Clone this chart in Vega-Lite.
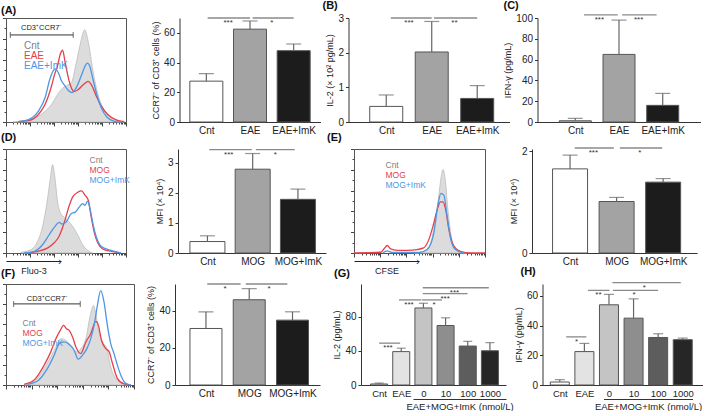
{
"$schema":"https://vega.github.io/schema/vega-lite/v6.json",
"padding":0,"background":"white","autosize":{"type":"pad"},
"config":{"view":{"stroke":null},"font":"Liberation Sans",
 "axis":{"labelFont":"Liberation Sans","titleFont":"Liberation Sans","labelFontSize":10,"titleFontSize":9,"titleFontWeight":"normal","labelColor":"#222","titleColor":"#222","domainColor":"#333","tickColor":"#333","tickSize":3,"grid":false,"titlePadding":3,"labelPadding":2,"labelOverlap":false},
 "axisX":{"labelAngle":0},
 "title":{"font":"Liberation Sans","fontSize":11,"fontWeight":"bold","anchor":"start","frame":"group","color":"#111"},
 "text":{"font":"Liberation Sans"},
 "legend":{"labelFont":"Liberation Sans"}},
"datasets":{
"bars":[
{"p":"A","i":0,"g":"Cnt","m":27.5,"e":32.5},{"p":"A","i":1,"g":"EAE","m":62.5,"e":68},{"p":"A","i":2,"g":"EAE+ImK","m":48,"e":52.5},
{"p":"B","i":0,"g":"Cnt","m":0.45,"e":0.78},{"p":"B","i":1,"g":"EAE","m":2.02,"e":2.9},{"p":"B","i":2,"g":"EAE+ImK","m":0.68,"e":1.05},
{"p":"C","i":0,"g":"Cnt","m":1.2,"e":3.5},{"p":"C","i":1,"g":"EAE","m":65,"e":98},{"p":"C","i":2,"g":"EAE+ImK","m":16,"e":27.5},
{"p":"D","i":0,"g":"Cnt","m":0.38,"e":0.57},{"p":"D","i":1,"g":"MOG","m":2.78,"e":3.3},{"p":"D","i":2,"g":"MOG+ImK","m":1.78,"e":2.12},
{"p":"E","i":0,"g":"Cnt","m":1.65,"e":1.92},{"p":"E","i":1,"g":"MOG","m":1.01,"e":1.09},{"p":"E","i":2,"g":"MOG+ImK","m":1.39,"e":1.46},
{"p":"F","i":0,"g":"Cnt","m":30.5,"e":39.5},{"p":"F","i":1,"g":"MOG","m":46,"e":52},{"p":"F","i":2,"g":"MOG+ImK","m":35,"e":39.5},
{"p":"G","i":0,"g":"Cnt","m":1.2,"e":2.3},{"p":"G","i":1,"g":"EAE","m":39,"e":43},{"p":"G","i":2,"g":"0","m":90,"e":95.5},{"p":"G","i":3,"g":"10","m":69.5,"e":78.5},{"p":"G","i":4,"g":"100","m":45.5,"e":51},{"p":"G","i":5,"g":"1000","m":40,"e":49.5},
{"p":"H","i":0,"g":"Cnt","m":2,"e":3.6},{"p":"H","i":1,"g":"EAE","m":22.5,"e":28},{"p":"H","i":2,"g":"0","m":54,"e":61},{"p":"H","i":3,"g":"10","m":45,"e":58},{"p":"H","i":4,"g":"100","m":32,"e":34.5},{"p":"H","i":5,"g":"1000","m":30.5,"e":31.6}
],
"sig":[
{"p":"A","a":0.03,"b":1.0,"mid":0.5,"y":70,"t":"***"},{"p":"A","a":1.06,"b":2.0,"mid":1.5,"y":70,"t":"*"},
{"p":"B","a":0.1,"b":1.0,"mid":0.5,"y":3,"t":"***"},{"p":"B","a":1.05,"b":2.0,"mid":1.5,"y":3,"t":"**"},
{"p":"C","a":0.2,"b":0.97,"mid":0.55,"y":103,"t":"***"},{"p":"C","a":1.07,"b":1.86,"mid":1.45,"y":103,"t":"***"},
{"p":"D","a":0.04,"b":0.98,"mid":0.47,"y":3.43,"t":"***"},{"p":"D","a":1.07,"b":1.93,"mid":1.5,"y":3.43,"t":"*"},
{"p":"E","a":0.1,"b":0.94,"mid":0.5,"y":2.06,"t":"***"},{"p":"E","a":1.07,"b":1.98,"mid":1.5,"y":2.06,"t":"*"},
{"p":"F","a":0.03,"b":0.8,"mid":0.44,"y":54.5,"t":"*"},{"p":"F","a":0.92,"b":1.88,"mid":1.46,"y":54.5,"t":"*"},
{"p":"G","a":0,"b":0.95,"mid":0.4,"y":48.9,"t":"***"},{"p":"G","a":0.9,"b":1.9,"mid":1.35,"y":99.4,"t":"***"},{"p":"G","a":1.93,"b":2.84,"mid":2.48,"y":99.4,"t":"*"},{"p":"G","a":1.97,"b":3.99,"mid":2.98,"y":106.7,"t":"***"},{"p":"G","a":1.97,"b":4.95,"mid":3.4,"y":113.6,"t":"***"},
{"p":"H","a":0.26,"b":1.08,"mid":0.68,"y":32.4,"t":"*"},{"p":"H","a":1.15,"b":2.02,"mid":1.57,"y":63.7,"t":"**"},{"p":"H","a":2.16,"b":4.0,"mid":3.02,"y":63.7,"t":"*"},{"p":"H","a":2.14,"b":4.92,"mid":3.44,"y":68.9,"t":"*"}
],
"gate":[
{"p":"A","a":0.18,"b":2.8,"mid":1.49,"y":83.7,"t":"CD3⁺CCR7⁻"},
{"p":"F","a":0.3,"b":2.9,"mid":1.62,"y":80.3,"t":"CD3⁺CCR7⁻"}
],
"hist":[
{"p":"A","s":"Cnt","x":0.3,"y":0},{"p":"A","s":"Cnt","x":0.66,"y":1},{"p":"A","s":"Cnt","x":1.21,"y":3.9},{"p":"A","s":"Cnt","x":1.63,"y":10.4},{"p":"A","s":"Cnt","x":1.9,"y":17},{"p":"A","s":"Cnt","x":2.11,"y":25},{"p":"A","s":"Cnt","x":2.31,"y":31.6},{"p":"A","s":"Cnt","x":2.52,"y":34.9},{"p":"A","s":"Cnt","x":2.73,"y":38},{"p":"A","s":"Cnt","x":2.89,"y":52.8},{"p":"A","s":"Cnt","x":3.07,"y":72.3},{"p":"A","s":"Cnt","x":3.28,"y":88.6},{"p":"A","s":"Cnt","x":3.44,"y":75.6},{"p":"A","s":"Cnt","x":3.62,"y":49.5},{"p":"A","s":"Cnt","x":3.83,"y":26.7},{"p":"A","s":"Cnt","x":4.04,"y":13.7},{"p":"A","s":"Cnt","x":4.31,"y":5.5},{"p":"A","s":"Cnt","x":4.66,"y":1.3},{"p":"A","s":"Cnt","x":4.93,"y":0},
{"p":"A","s":"EAE","x":0.52,"y":0.3},{"p":"A","s":"EAE","x":0.94,"y":1.3},{"p":"A","s":"EAE","x":1.35,"y":7.2},{"p":"A","s":"EAE","x":1.63,"y":17},{"p":"A","s":"EAE","x":1.9,"y":34.9},{"p":"A","s":"EAE","x":2.01,"y":44.6},{"p":"A","s":"EAE","x":2.15,"y":54.4},{"p":"A","s":"EAE","x":2.27,"y":65.8},{"p":"A","s":"EAE","x":2.36,"y":69},{"p":"A","s":"EAE","x":2.45,"y":59.3},{"p":"A","s":"EAE","x":2.56,"y":46.3},{"p":"A","s":"EAE","x":2.69,"y":34.9},{"p":"A","s":"EAE","x":2.84,"y":29.3},{"p":"A","s":"EAE","x":3.03,"y":31.6},{"p":"A","s":"EAE","x":3.25,"y":36.5},{"p":"A","s":"EAE","x":3.42,"y":39},{"p":"A","s":"EAE","x":3.58,"y":34.9},{"p":"A","s":"EAE","x":3.76,"y":25},{"p":"A","s":"EAE","x":3.97,"y":15.3},{"p":"A","s":"EAE","x":4.24,"y":7.2},{"p":"A","s":"EAE","x":4.59,"y":2},{"p":"A","s":"EAE","x":4.93,"y":0.3},
{"p":"A","s":"EAE+ImK","x":0.52,"y":0.3},{"p":"A","s":"EAE+ImK","x":0.94,"y":2.3},{"p":"A","s":"EAE+ImK","x":1.35,"y":10.4},{"p":"A","s":"EAE+ImK","x":1.63,"y":23.5},{"p":"A","s":"EAE+ImK","x":1.83,"y":41.4},{"p":"A","s":"EAE+ImK","x":1.97,"y":49.5},{"p":"A","s":"EAE+ImK","x":2.07,"y":51.1},{"p":"A","s":"EAE+ImK","x":2.2,"y":46.3},{"p":"A","s":"EAE+ImK","x":2.31,"y":39.7},{"p":"A","s":"EAE+ImK","x":2.45,"y":34.9},{"p":"A","s":"EAE+ImK","x":2.59,"y":30.6},{"p":"A","s":"EAE+ImK","x":2.75,"y":28.3},{"p":"A","s":"EAE+ImK","x":2.93,"y":33.2},{"p":"A","s":"EAE+ImK","x":3.14,"y":44.6},{"p":"A","s":"EAE+ImK","x":3.31,"y":54.4},{"p":"A","s":"EAE+ImK","x":3.39,"y":56.7},{"p":"A","s":"EAE+ImK","x":3.48,"y":54.4},{"p":"A","s":"EAE+ImK","x":3.62,"y":41.4},{"p":"A","s":"EAE+ImK","x":3.8,"y":25},{"p":"A","s":"EAE+ImK","x":3.97,"y":13.7},{"p":"A","s":"EAE+ImK","x":4.21,"y":4.6},{"p":"A","s":"EAE+ImK","x":4.52,"y":0.7},{"p":"A","s":"EAE+ImK","x":4.8,"y":0},
{"p":"D","s":"Cnt","x":0.63,"y":0.7},{"p":"D","s":"Cnt","x":1.04,"y":3.3},{"p":"D","s":"Cnt","x":1.32,"y":11.5},{"p":"D","s":"Cnt","x":1.53,"y":26},{"p":"D","s":"Cnt","x":1.71,"y":49},{"p":"D","s":"Cnt","x":1.85,"y":72},{"p":"D","s":"Cnt","x":1.94,"y":85},{"p":"D","s":"Cnt","x":2.04,"y":72},{"p":"D","s":"Cnt","x":2.15,"y":49},{"p":"D","s":"Cnt","x":2.29,"y":37.7},{"p":"D","s":"Cnt","x":2.43,"y":34.4},{"p":"D","s":"Cnt","x":2.64,"y":29.5},{"p":"D","s":"Cnt","x":2.85,"y":23},{"p":"D","s":"Cnt","x":3.01,"y":16.4},{"p":"D","s":"Cnt","x":3.19,"y":8.2},{"p":"D","s":"Cnt","x":3.4,"y":2.6},{"p":"D","s":"Cnt","x":3.61,"y":0},
{"p":"D","s":"MOG","x":0.9,"y":0},{"p":"D","s":"MOG","x":1.32,"y":1.6},{"p":"D","s":"MOG","x":1.74,"y":4.9},{"p":"D","s":"MOG","x":2.01,"y":9.8},{"p":"D","s":"MOG","x":2.22,"y":16.4},{"p":"D","s":"MOG","x":2.43,"y":29.5},{"p":"D","s":"MOG","x":2.64,"y":45.9},{"p":"D","s":"MOG","x":2.78,"y":54},{"p":"D","s":"MOG","x":2.99,"y":58.4},{"p":"D","s":"MOG","x":3.15,"y":59.7},{"p":"D","s":"MOG","x":3.29,"y":55.7},{"p":"D","s":"MOG","x":3.43,"y":50.8},{"p":"D","s":"MOG","x":3.54,"y":36},{"p":"D","s":"MOG","x":3.68,"y":19.7},{"p":"D","s":"MOG","x":3.82,"y":9.8},{"p":"D","s":"MOG","x":4.03,"y":3.9},{"p":"D","s":"MOG","x":4.38,"y":1.6},{"p":"D","s":"MOG","x":4.79,"y":0},
{"p":"D","s":"MOG+ImK","x":0.76,"y":0},{"p":"D","s":"MOG+ImK","x":1.18,"y":1.6},{"p":"D","s":"MOG+ImK","x":1.53,"y":8.2},{"p":"D","s":"MOG+ImK","x":1.81,"y":18},{"p":"D","s":"MOG+ImK","x":2.01,"y":24.6},{"p":"D","s":"MOG+ImK","x":2.22,"y":29.5},{"p":"D","s":"MOG+ImK","x":2.32,"y":27.9},{"p":"D","s":"MOG+ImK","x":2.5,"y":29.5},{"p":"D","s":"MOG+ImK","x":2.71,"y":37.7},{"p":"D","s":"MOG+ImK","x":2.88,"y":39.3},{"p":"D","s":"MOG+ImK","x":3.06,"y":44.3},{"p":"D","s":"MOG+ImK","x":3.19,"y":47.5},{"p":"D","s":"MOG+ImK","x":3.29,"y":45.9},{"p":"D","s":"MOG+ImK","x":3.4,"y":49.8},{"p":"D","s":"MOG+ImK","x":3.5,"y":42.6},{"p":"D","s":"MOG+ImK","x":3.61,"y":29.5},{"p":"D","s":"MOG+ImK","x":3.75,"y":16.4},{"p":"D","s":"MOG+ImK","x":3.96,"y":6.6},{"p":"D","s":"MOG+ImK","x":4.38,"y":2.6},{"p":"D","s":"MOG+ImK","x":4.79,"y":0},
{"p":"E","s":"Cnt","x":2.3,"y":0},{"p":"E","s":"Cnt","x":2.66,"y":1.6},{"p":"E","s":"Cnt","x":2.92,"y":9.8},{"p":"E","s":"Cnt","x":3.11,"y":32.8},{"p":"E","s":"Cnt","x":3.24,"y":55.7},{"p":"E","s":"Cnt","x":3.32,"y":72},{"p":"E","s":"Cnt","x":3.4,"y":80.3},{"p":"E","s":"Cnt","x":3.49,"y":68.9},{"p":"E","s":"Cnt","x":3.58,"y":42.6},{"p":"E","s":"Cnt","x":3.71,"y":16.4},{"p":"E","s":"Cnt","x":3.87,"y":3.9},{"p":"E","s":"Cnt","x":4.06,"y":0.7},{"p":"E","s":"Cnt","x":4.31,"y":0},
{"p":"E","s":"MOG","x":0,"y":0},{"p":"E","s":"MOG","x":1.02,"y":0.7},{"p":"E","s":"MOG","x":1.14,"y":3.9},{"p":"E","s":"MOG","x":1.27,"y":7.2},{"p":"E","s":"MOG","x":1.4,"y":3.9},{"p":"E","s":"MOG","x":1.65,"y":2.6},{"p":"E","s":"MOG","x":2.03,"y":2.6},{"p":"E","s":"MOG","x":2.41,"y":3.3},{"p":"E","s":"MOG","x":2.66,"y":4.9},{"p":"E","s":"MOG","x":2.86,"y":13.1},{"p":"E","s":"MOG","x":3.02,"y":26.2},{"p":"E","s":"MOG","x":3.17,"y":41},{"p":"E","s":"MOG","x":3.3,"y":49.2},{"p":"E","s":"MOG","x":3.4,"y":49.2},{"p":"E","s":"MOG","x":3.49,"y":42.6},{"p":"E","s":"MOG","x":3.62,"y":23},{"p":"E","s":"MOG","x":3.81,"y":6.6},{"p":"E","s":"MOG","x":4.06,"y":1.6},{"p":"E","s":"MOG","x":4.44,"y":0},{"p":"E","s":"MOG","x":5,"y":0},
{"p":"E","s":"MOG+ImK","x":1.1,"y":0},{"p":"E","s":"MOG+ImK","x":1.27,"y":2},{"p":"E","s":"MOG+ImK","x":1.45,"y":0.5},{"p":"E","s":"MOG+ImK","x":2.5,"y":0.5},{"p":"E","s":"MOG+ImK","x":2.79,"y":3.3},{"p":"E","s":"MOG+ImK","x":3.05,"y":19.7},{"p":"E","s":"MOG+ImK","x":3.2,"y":45.9},{"p":"E","s":"MOG+ImK","x":3.32,"y":57.4},{"p":"E","s":"MOG+ImK","x":3.43,"y":55.7},{"p":"E","s":"MOG+ImK","x":3.55,"y":36},{"p":"E","s":"MOG+ImK","x":3.68,"y":14.8},{"p":"E","s":"MOG+ImK","x":3.87,"y":3.3},{"p":"E","s":"MOG+ImK","x":4.19,"y":0},
{"p":"F","s":"Cnt","x":0.71,"y":0.7},{"p":"F","s":"Cnt","x":1.1,"y":3.3},{"p":"F","s":"Cnt","x":1.49,"y":16.4},{"p":"F","s":"Cnt","x":1.75,"y":27.9},{"p":"F","s":"Cnt","x":1.95,"y":37.7},{"p":"F","s":"Cnt","x":2.14,"y":45.9},{"p":"F","s":"Cnt","x":2.34,"y":44.3},{"p":"F","s":"Cnt","x":2.53,"y":39.3},{"p":"F","s":"Cnt","x":2.77,"y":32.8},{"p":"F","s":"Cnt","x":2.92,"y":36},{"p":"F","s":"Cnt","x":3.12,"y":45.9},{"p":"F","s":"Cnt","x":3.29,"y":68.9},{"p":"F","s":"Cnt","x":3.42,"y":78.7},{"p":"F","s":"Cnt","x":3.51,"y":70.5},{"p":"F","s":"Cnt","x":3.64,"y":50.8},{"p":"F","s":"Cnt","x":3.77,"y":42.6},{"p":"F","s":"Cnt","x":3.94,"y":36},{"p":"F","s":"Cnt","x":4.09,"y":18},{"p":"F","s":"Cnt","x":4.29,"y":6.6},{"p":"F","s":"Cnt","x":4.55,"y":1.6},{"p":"F","s":"Cnt","x":4.74,"y":0},
{"p":"F","s":"MOG","x":0.71,"y":0.7},{"p":"F","s":"MOG","x":1.1,"y":4.9},{"p":"F","s":"MOG","x":1.49,"y":19.7},{"p":"F","s":"MOG","x":1.75,"y":32.8},{"p":"F","s":"MOG","x":1.95,"y":45.9},{"p":"F","s":"MOG","x":2.12,"y":54.1},{"p":"F","s":"MOG","x":2.25,"y":59},{"p":"F","s":"MOG","x":2.36,"y":55.7},{"p":"F","s":"MOG","x":2.47,"y":54.1},{"p":"F","s":"MOG","x":2.6,"y":47.5},{"p":"F","s":"MOG","x":2.73,"y":37.7},{"p":"F","s":"MOG","x":2.92,"y":31.1},{"p":"F","s":"MOG","x":3.12,"y":42.6},{"p":"F","s":"MOG","x":3.31,"y":50.8},{"p":"F","s":"MOG","x":3.51,"y":63},{"p":"F","s":"MOG","x":3.61,"y":59},{"p":"F","s":"MOG","x":3.73,"y":44.3},{"p":"F","s":"MOG","x":3.9,"y":36},{"p":"F","s":"MOG","x":4.03,"y":32.8},{"p":"F","s":"MOG","x":4.16,"y":21.3},{"p":"F","s":"MOG","x":4.35,"y":6.6},{"p":"F","s":"MOG","x":4.61,"y":1},{"p":"F","s":"MOG","x":4.87,"y":0},
{"p":"F","s":"MOG+ImK","x":0.84,"y":0.7},{"p":"F","s":"MOG+ImK","x":1.23,"y":3.9},{"p":"F","s":"MOG+ImK","x":1.62,"y":16.4},{"p":"F","s":"MOG+ImK","x":1.88,"y":29.5},{"p":"F","s":"MOG+ImK","x":2.08,"y":41},{"p":"F","s":"MOG+ImK","x":2.27,"y":42.6},{"p":"F","s":"MOG+ImK","x":2.47,"y":40},{"p":"F","s":"MOG+ImK","x":2.66,"y":34.4},{"p":"F","s":"MOG+ImK","x":2.82,"y":25.6},{"p":"F","s":"MOG+ImK","x":2.99,"y":29.5},{"p":"F","s":"MOG+ImK","x":3.16,"y":36},{"p":"F","s":"MOG+ImK","x":3.31,"y":45.9},{"p":"F","s":"MOG+ImK","x":3.44,"y":59},{"p":"F","s":"MOG+ImK","x":3.57,"y":78.7},{"p":"F","s":"MOG+ImK","x":3.7,"y":93.4},{"p":"F","s":"MOG+ImK","x":3.83,"y":82},{"p":"F","s":"MOG+ImK","x":3.96,"y":59},{"p":"F","s":"MOG+ImK","x":4.09,"y":41},{"p":"F","s":"MOG+ImK","x":4.22,"y":31.1},{"p":"F","s":"MOG+ImK","x":4.35,"y":19.7},{"p":"F","s":"MOG+ImK","x":4.51,"y":8.2},{"p":"F","s":"MOG+ImK","x":4.68,"y":1.6},{"p":"F","s":"MOG+ImK","x":4.87,"y":0}
]},
"spacing":-4,
"resolve":{"scale":{"x":"independent","y":"independent","fill":"independent","stroke":"independent"},"legend":{"fill":"independent","stroke":"independent"}},
"vconcat":[
{"hconcat":[
 {"width":120,"height":104,"title":{"text":"(A)","dx":-5,"offset":2},"view":{"stroke":"#555"},
  "layer":[
   {"data":{"name":"hist"},"transform":[{"filter":"datum.p==='A' && datum.s==='Cnt'"}],"mark":{"type":"area","interpolate":"monotone","fill":"#dcdcdc","stroke":"#bdbdbd","strokeWidth":0.8},
    "encoding":{"x":{"field":"x","type":"quantitative","scale":{"domain":[0,5],"nice":false,"zero":false},"axis":{"orient":"bottom","title":null,"labels":false,"domain":false,"tickColor":"#444","tickCount":100,"values":[0,0.301,0.477,0.602,0.699,0.778,0.845,0.903,0.954,1,1.301,1.477,1.602,1.699,1.778,1.845,1.903,1.954,2,2.301,2.477,2.602,2.699,2.778,2.845,2.903,2.954,3,3.301,3.477,3.602,3.699,3.778,3.845,3.903,3.954,4,4.301,4.477,4.602,4.699,4.778,4.845,4.903,4.954,5],"tickSize":{"condition":{"test":"datum.value % 1 === 0","value":4},"value":2}}},
     "y":{"field":"y","type":"quantitative","scale":{"domain":[0,100],"nice":false},"axis":{"title":null,"labels":false,"domain":false,"tickColor":"#444","tickCount":50,"values":[0,10,20,30,40,50,60,70,80,90,100],"tickSize":{"condition":{"test":"datum.value % 20 === 0","value":3.5},"value":2}}}}},
   {"data":{"name":"hist"},"transform":[{"filter":"datum.p==='A' && datum.s!=='Cnt'"}],"mark":{"type":"line","interpolate":"monotone","strokeWidth":1.3},
    "encoding":{"x":{"field":"x","type":"quantitative"},"y":{"field":"y","type":"quantitative"},
     "stroke":{"field":"s","type":"nominal","scale":{"domain":["Cnt","EAE","EAE+ImK"],"range":["#8c8c8c","#e5414b","#4d96e6"]},
      "legend":{"orient":"none","legendX":8,"legendY":23,"title":null,"symbolSize":0,"symbolStrokeWidth":0,"symbolOpacity":0,"labelOffset":0,"labelFontSize":10,"rowPadding":-0.5,"padding":0,
       "encode":{"labels":{"update":{"fill":{"signal":"datum.value === 'Cnt' ? '#7f7f7f' : (indexof(datum.value, 'ImK') >= 0 ? '#4d96e6' : '#e5414b')"}}}}}}}},
   {"data":{"name":"gate"},"transform":[{"filter":"datum.p==='A'"}],"mark":{"type":"rule","color":"#333","strokeWidth":1},"encoding":{"x":{"field":"a","type":"quantitative"},"x2":{"field":"b"},"y":{"field":"y","type":"quantitative"}}},
   {"data":{"name":"gate"},"transform":[{"filter":"datum.p==='A'"}],"mark":{"type":"tick","orient":"vertical","size":6,"thickness":1,"color":"#333"},"encoding":{"x":{"field":"a","type":"quantitative"},"y":{"field":"y","type":"quantitative"}}},
   {"data":{"name":"gate"},"transform":[{"filter":"datum.p==='A'"}],"mark":{"type":"tick","orient":"vertical","size":6,"thickness":1,"color":"#333"},"encoding":{"x":{"field":"b","type":"quantitative"},"y":{"field":"y","type":"quantitative"}}},
   {"data":{"name":"gate"},"transform":[{"filter":"datum.p==='A'"}],"mark":{"type":"text","baseline":"bottom","dy":-3,"fontSize":7.5,"color":"#222"},"encoding":{"x":{"field":"mid","type":"quantitative"},"y":{"field":"y","type":"quantitative"},"text":{"field":"t"}}}
  ]},
 {"hconcat":[
  {"width":141,"height":104,
   "layer":[
    {"data":{"name":"bars"},"transform":[{"filter":"datum.p==='A'"}],"mark":{"type":"bar","orient":"vertical","width":33,"stroke":"#555","strokeWidth":1},
     "encoding":{"x":{"field":"i","type":"quantitative","scale":{"domain":[-0.5,2.5],"nice":false,"zero":false},"axis":{"values":[0,1,2],"tickCount":50,"labelExpr":"['Cnt','EAE','EAE+ImK'][datum.value]","ticks":false,"title":null,"labelPadding":3,"labelOverlap":false}},
      "y":{"field":"m","type":"quantitative","scale":{"domain":[0,70],"nice":false},"axis":{"values":[0,20,40,60],"tickCount":50,"format":"d","labelOverlap":false,"title":"CCR7⁻ of CD3⁺ cells (%)"}},
      "fill":{"field":"g","type":"nominal","scale":{"domain":["Cnt","EAE","EAE+ImK"],"range":["#ffffff","#a3a3a3","#1c1c1c"]},"legend":null}}},
    {"data":{"name":"bars"},"transform":[{"filter":"datum.p==='A'"}],"mark":{"type":"rule","color":"#666","strokeWidth":1.2},"encoding":{"x":{"field":"i","type":"quantitative"},"y":{"field":"m","type":"quantitative"},"y2":{"field":"e"}}},
    {"data":{"name":"bars"},"transform":[{"filter":"datum.p==='A'"}],"mark":{"type":"tick","orient":"horizontal","size":15,"thickness":1.2,"color":"#666"},"encoding":{"x":{"field":"i","type":"quantitative"},"y":{"field":"e","type":"quantitative"}}},
    {"data":{"name":"sig"},"transform":[{"filter":"datum.p==='A'"}],"mark":{"type":"rule","color":"#8a8a8a","strokeWidth":1.3},"encoding":{"x":{"field":"a","type":"quantitative"},"x2":{"field":"b"},"y":{"field":"y","type":"quantitative"}}},
    {"data":{"name":"sig"},"transform":[{"filter":"datum.p==='A'"}],"mark":{"type":"text","baseline":"top","dy":1,"fontSize":8,"color":"#333"},"encoding":{"x":{"field":"mid","type":"quantitative"},"y":{"field":"y","type":"quantitative"},"text":{"field":"t"}}}
   ]},
  {"width":161,"height":104,"title":{"text":"(B)","dx":-26,"offset":2},
   "layer":[
    {"data":{"name":"bars"},"transform":[{"filter":"datum.p==='B'"}],"mark":{"type":"bar","orient":"vertical","width":33,"stroke":"#555","strokeWidth":1},
     "encoding":{"x":{"field":"i","type":"quantitative","scale":{"domain":[-0.72,2.6],"nice":false,"zero":false},"axis":{"values":[0,1,2],"tickCount":50,"labelExpr":"['Cnt','EAE','EAE+ImK'][datum.value]","ticks":false,"title":null,"labelPadding":3,"labelOverlap":false}},
      "y":{"field":"m","type":"quantitative","scale":{"domain":[0,3],"nice":false},"axis":{"values":[0,1,2,3],"tickCount":50,"format":"d","labelOverlap":false,"title":"IL-2 (× 10² pg/mL)"}},
      "fill":{"field":"g","type":"nominal","scale":{"domain":["Cnt","EAE","EAE+ImK"],"range":["#ffffff","#a3a3a3","#1c1c1c"]},"legend":null}}},
    {"data":{"name":"bars"},"transform":[{"filter":"datum.p==='B'"}],"mark":{"type":"rule","color":"#666","strokeWidth":1.2},"encoding":{"x":{"field":"i","type":"quantitative"},"y":{"field":"m","type":"quantitative"},"y2":{"field":"e"}}},
    {"data":{"name":"bars"},"transform":[{"filter":"datum.p==='B'"}],"mark":{"type":"tick","orient":"horizontal","size":15,"thickness":1.2,"color":"#666"},"encoding":{"x":{"field":"i","type":"quantitative"},"y":{"field":"e","type":"quantitative"}}},
    {"data":{"name":"sig"},"transform":[{"filter":"datum.p==='B'"}],"mark":{"type":"rule","color":"#8a8a8a","strokeWidth":1.3},"encoding":{"x":{"field":"a","type":"quantitative"},"x2":{"field":"b"},"y":{"field":"y","type":"quantitative"}}},
    {"data":{"name":"sig"},"transform":[{"filter":"datum.p==='B'"}],"mark":{"type":"text","baseline":"top","dy":1,"fontSize":8,"color":"#333"},"encoding":{"x":{"field":"mid","type":"quantitative"},"y":{"field":"y","type":"quantitative"},"text":{"field":"t"}}}
   ]},
  {"width":163,"height":104,"title":{"text":"(C)","dx":-34,"offset":2},
   "layer":[
    {"data":{"name":"bars"},"transform":[{"filter":"datum.p==='C'"}],"mark":{"type":"bar","orient":"vertical","width":32,"stroke":"#555","strokeWidth":1},
     "encoding":{"x":{"field":"i","type":"quantitative","scale":{"domain":[-0.75,2.75],"nice":false,"zero":false},"axis":{"values":[0,1,2],"tickCount":50,"labelExpr":"['Cnt','EAE','EAE+ImK'][datum.value]","ticks":false,"title":null,"labelPadding":3,"labelOverlap":false}},
      "y":{"field":"m","type":"quantitative","scale":{"domain":[0,100],"nice":false},"axis":{"values":[0,20,40,60,80,100],"tickCount":50,"format":"d","labelOverlap":false,"title":"IFN-γ (pg/mL)"}},
      "fill":{"field":"g","type":"nominal","scale":{"domain":["Cnt","EAE","EAE+ImK"],"range":["#ffffff","#a3a3a3","#1c1c1c"]},"legend":null}}},
    {"data":{"name":"bars"},"transform":[{"filter":"datum.p==='C'"}],"mark":{"type":"rule","color":"#666","strokeWidth":1.2},"encoding":{"x":{"field":"i","type":"quantitative"},"y":{"field":"m","type":"quantitative"},"y2":{"field":"e"}}},
    {"data":{"name":"bars"},"transform":[{"filter":"datum.p==='C'"}],"mark":{"type":"tick","orient":"horizontal","size":15,"thickness":1.2,"color":"#666"},"encoding":{"x":{"field":"i","type":"quantitative"},"y":{"field":"e","type":"quantitative"}}},
    {"data":{"name":"sig"},"transform":[{"filter":"datum.p==='C'"}],"mark":{"type":"rule","color":"#8a8a8a","strokeWidth":1.3},"encoding":{"x":{"field":"a","type":"quantitative"},"x2":{"field":"b"},"y":{"field":"y","type":"quantitative"}}},
    {"data":{"name":"sig"},"transform":[{"filter":"datum.p==='C'"}],"mark":{"type":"text","baseline":"top","dy":1,"fontSize":8,"color":"#333"},"encoding":{"x":{"field":"mid","type":"quantitative"},"y":{"field":"y","type":"quantitative"},"text":{"field":"t"}}}
   ]}
 ],"spacing":28,"bounds":"flush","resolve":{"scale":{"x":"independent","y":"independent","fill":"independent","stroke":"independent"},"legend":{"fill":"independent","stroke":"independent"}}}
],"spacing":22.5,"resolve":{"scale":{"x":"independent","y":"independent","fill":"independent","stroke":"independent"},"legend":{"fill":"independent","stroke":"independent"}}},
{"vconcat":[
 {"hconcat":[
  {"hconcat":[
   {"width":120,"height":104,"title":{"text":"(D)","dx":-5,"offset":6},"view":{"stroke":"#555"},
    "resolve":{"scale":{"x":"independent"},"axis":{"x":"independent"}},
    "layer":[
     {"layer":[
      {"data":{"name":"hist"},"transform":[{"filter":"datum.p==='D' && datum.s==='Cnt'"}],"mark":{"type":"area","interpolate":"monotone","fill":"#dcdcdc","stroke":"#bdbdbd","strokeWidth":0.8},
       "encoding":{"x":{"field":"x","type":"quantitative","scale":{"domain":[0,5],"nice":false,"zero":false},"axis":{"orient":"bottom","title":null,"labels":false,"domain":false,"tickColor":"#444","tickCount":100,"values":[0,0.301,0.477,0.602,0.699,0.778,0.845,0.903,0.954,1,1.301,1.477,1.602,1.699,1.778,1.845,1.903,1.954,2,2.301,2.477,2.602,2.699,2.778,2.845,2.903,2.954,3,3.301,3.477,3.602,3.699,3.778,3.845,3.903,3.954,4,4.301,4.477,4.602,4.699,4.778,4.845,4.903,4.954,5],"tickSize":{"condition":{"test":"datum.value % 1 === 0","value":4},"value":2}}},
        "y":{"field":"y","type":"quantitative","scale":{"domain":[0,100],"nice":false},"axis":{"title":null,"labels":false,"domain":false,"tickColor":"#444","tickCount":50,"values":[0,10,20,30,40,50,60,70,80,90,100],"tickSize":{"condition":{"test":"datum.value % 20 === 0","value":3.5},"value":2}}}}},
      {"data":{"name":"hist"},"transform":[{"filter":"datum.p==='D' && datum.s!=='Cnt'"}],"mark":{"type":"line","interpolate":"monotone","strokeWidth":1.3},
       "encoding":{"x":{"field":"x","type":"quantitative"},"y":{"field":"y","type":"quantitative"},
        "stroke":{"field":"s","type":"nominal","scale":{"domain":["Cnt","MOG","MOG+ImK"],"range":["#8c8c8c","#e5414b","#4d96e6"]},
         "legend":{"orient":"none","legendX":75,"legendY":7,"title":null,"symbolSize":0,"symbolStrokeWidth":0,"symbolOpacity":0,"labelOffset":0,"labelFontSize":8.5,"rowPadding":1,"padding":0,
          "encode":{"labels":{"update":{"fill":{"signal":"datum.value === 'Cnt' ? '#7f7f7f' : (indexof(datum.value, 'ImK') >= 0 ? '#4d96e6' : '#e5414b')"}}}}}}}}
     ]},
     {"data":{"name":"hist"},"transform":[{"filter":"datum.p==='D'"}],"mark":{"type":"point","opacity":0},
      "encoding":{"x":{"datum":0.5,"type":"quantitative","scale":{"domain":[0,1],"range":[0,55]},"axis":{"orient":"bottom","offset":8,"domain":true,"domainColor":"#222","ticks":false,"tickSize":0,"labels":true,"values":[1],"tickCount":50,"labelExpr":"'›'","labelFontSize":10,"labelPadding":0,"labelBaseline":"middle","labelColor":"#222","title":"Fluo-3","titleFontSize":9,"titlePadding":0}},
       "y":{"datum":0,"type":"quantitative"}}}
    ]},
   {"width":148,"height":104,
    "layer":[
     {"data":{"name":"bars"},"transform":[{"filter":"datum.p==='D'"}],"mark":{"type":"bar","orient":"vertical","width":35,"stroke":"#555","strokeWidth":1},
      "encoding":{"x":{"field":"i","type":"quantitative","scale":{"domain":[-0.54,2.51],"nice":false,"zero":false},"axis":{"values":[0,1,2],"tickCount":50,"labelExpr":"['Cnt','MOG','MOG+ImK'][datum.value]","ticks":false,"title":null,"labelPadding":3,"labelOverlap":false}},
       "y":{"field":"m","type":"quantitative","scale":{"domain":[0,3.45],"nice":false},"axis":{"values":[0,1,2,3],"tickCount":50,"format":"d","labelOverlap":false,"title":"MFI (× 10⁴)"}},
       "fill":{"field":"g","type":"nominal","scale":{"domain":["Cnt","MOG","MOG+ImK"],"range":["#ffffff","#a3a3a3","#1c1c1c"]},"legend":null}}},
     {"data":{"name":"bars"},"transform":[{"filter":"datum.p==='D'"}],"mark":{"type":"rule","color":"#666","strokeWidth":1.2},"encoding":{"x":{"field":"i","type":"quantitative"},"y":{"field":"m","type":"quantitative"},"y2":{"field":"e"}}},
     {"data":{"name":"bars"},"transform":[{"filter":"datum.p==='D'"}],"mark":{"type":"tick","orient":"horizontal","size":15,"thickness":1.2,"color":"#666"},"encoding":{"x":{"field":"i","type":"quantitative"},"y":{"field":"e","type":"quantitative"}}},
     {"data":{"name":"sig"},"transform":[{"filter":"datum.p==='D'"}],"mark":{"type":"rule","color":"#8a8a8a","strokeWidth":1.3},"encoding":{"x":{"field":"a","type":"quantitative"},"x2":{"field":"b"},"y":{"field":"y","type":"quantitative"}}},
     {"data":{"name":"sig"},"transform":[{"filter":"datum.p==='D'"}],"mark":{"type":"text","baseline":"top","dy":1,"fontSize":8,"color":"#333"},"encoding":{"x":{"field":"mid","type":"quantitative"},"y":{"field":"y","type":"quantitative"},"text":{"field":"t"}}}
    ]}
  ],"spacing":52,"bounds":"flush","resolve":{"scale":{"x":"independent","y":"independent","fill":"independent","stroke":"independent"},"legend":{"fill":"independent","stroke":"independent"}}},
  {"hconcat":[
   {"width":131,"height":104,"title":{"text":"(E)","dx":-27,"offset":6},"view":{"stroke":"#555"},
    "resolve":{"scale":{"x":"independent"},"axis":{"x":"independent"}},
    "layer":[
     {"layer":[
      {"data":{"name":"hist"},"transform":[{"filter":"datum.p==='E' && datum.s==='Cnt'"}],"mark":{"type":"area","interpolate":"monotone","fill":"#dcdcdc","stroke":"#bdbdbd","strokeWidth":0.8},
       "encoding":{"x":{"field":"x","type":"quantitative","scale":{"domain":[0,5],"nice":false,"zero":false},"axis":{"orient":"bottom","title":null,"labels":false,"domain":false,"tickColor":"#444","tickCount":100,"values":[0,0.301,0.477,0.602,0.699,0.778,0.845,0.903,0.954,1,1.301,1.477,1.602,1.699,1.778,1.845,1.903,1.954,2,2.301,2.477,2.602,2.699,2.778,2.845,2.903,2.954,3,3.301,3.477,3.602,3.699,3.778,3.845,3.903,3.954,4,4.301,4.477,4.602,4.699,4.778,4.845,4.903,4.954,5],"tickSize":{"condition":{"test":"datum.value % 1 === 0","value":4},"value":2}}},
        "y":{"field":"y","type":"quantitative","scale":{"domain":[0,100],"nice":false},"axis":{"title":null,"labels":false,"domain":false,"tickColor":"#444","tickCount":50,"values":[0,10,20,30,40,50,60,70,80,90,100],"tickSize":{"condition":{"test":"datum.value % 20 === 0","value":3.5},"value":2}}}}},
      {"data":{"name":"hist"},"transform":[{"filter":"datum.p==='E' && datum.s!=='Cnt'"}],"mark":{"type":"line","interpolate":"monotone","strokeWidth":1.3},
       "encoding":{"x":{"field":"x","type":"quantitative"},"y":{"field":"y","type":"quantitative"},
        "stroke":{"field":"s","type":"nominal","scale":{"domain":["Cnt","MOG","MOG+ImK"],"range":["#8c8c8c","#e5414b","#4d96e6"]},
         "legend":{"orient":"none","legendX":23,"legendY":12,"title":null,"symbolSize":0,"symbolStrokeWidth":0,"symbolOpacity":0,"labelOffset":0,"labelFontSize":8.5,"rowPadding":1,"padding":0,
          "encode":{"labels":{"update":{"fill":{"signal":"datum.value === 'Cnt' ? '#7f7f7f' : (indexof(datum.value, 'ImK') >= 0 ? '#4d96e6' : '#e5414b')"}}}}}}}}
     ]},
     {"data":{"name":"hist"},"transform":[{"filter":"datum.p==='E'"}],"mark":{"type":"point","opacity":0},
      "encoding":{"x":{"datum":0.5,"type":"quantitative","scale":{"domain":[0,1],"range":[0,65]},"axis":{"orient":"bottom","offset":8,"domain":true,"domainColor":"#222","ticks":false,"tickSize":0,"labels":true,"values":[1],"tickCount":50,"labelExpr":"'›'","labelFontSize":10,"labelPadding":0,"labelBaseline":"middle","labelColor":"#222","title":"CFSE","titleFontSize":9,"titlePadding":0}},
       "y":{"datum":0,"type":"quantitative"}}}
    ]},
   {"width":165,"height":104,
    "layer":[
     {"data":{"name":"bars"},"transform":[{"filter":"datum.p==='E'"}],"mark":{"type":"bar","orient":"vertical","width":35,"stroke":"#555","strokeWidth":1},
      "encoding":{"x":{"field":"i","type":"quantitative","scale":{"domain":[-0.71,2.62],"nice":false,"zero":false},"axis":{"values":[0,1,2],"tickCount":50,"labelExpr":"['Cnt','MOG','MOG+ImK'][datum.value]","ticks":false,"title":null,"labelPadding":3,"labelOverlap":false}},
       "y":{"field":"m","type":"quantitative","scale":{"domain":[0,2.04],"nice":false},"axis":{"values":[0,1,2],"tickCount":50,"format":"d","labelOverlap":false,"title":"MFI (× 10⁴)"}},
       "fill":{"field":"g","type":"nominal","scale":{"domain":["Cnt","MOG","MOG+ImK"],"range":["#ffffff","#a3a3a3","#1c1c1c"]},"legend":null}}},
     {"data":{"name":"bars"},"transform":[{"filter":"datum.p==='E'"}],"mark":{"type":"rule","color":"#666","strokeWidth":1.2},"encoding":{"x":{"field":"i","type":"quantitative"},"y":{"field":"m","type":"quantitative"},"y2":{"field":"e"}}},
     {"data":{"name":"bars"},"transform":[{"filter":"datum.p==='E'"}],"mark":{"type":"tick","orient":"horizontal","size":15,"thickness":1.2,"color":"#666"},"encoding":{"x":{"field":"i","type":"quantitative"},"y":{"field":"e","type":"quantitative"}}},
     {"data":{"name":"sig"},"transform":[{"filter":"datum.p==='E'"}],"mark":{"type":"rule","color":"#8a8a8a","strokeWidth":1.3},"encoding":{"x":{"field":"a","type":"quantitative"},"x2":{"field":"b"},"y":{"field":"y","type":"quantitative"}}},
     {"data":{"name":"sig"},"transform":[{"filter":"datum.p==='E'"}],"mark":{"type":"text","baseline":"top","dy":1,"fontSize":8,"color":"#333"},"encoding":{"x":{"field":"mid","type":"quantitative"},"y":{"field":"y","type":"quantitative"},"text":{"field":"t"}}}
    ]}
  ],"spacing":47,"bounds":"flush","resolve":{"scale":{"x":"independent","y":"independent","fill":"independent","stroke":"independent"},"legend":{"fill":"independent","stroke":"independent"}}}
 ],"spacing":0,"resolve":{"scale":{"x":"independent","y":"independent","fill":"independent","stroke":"independent"},"legend":{"fill":"independent","stroke":"independent"}}},
 {"hconcat":[
  {"hconcat":[
   {"width":128,"height":101,"title":{"text":"(F)","dx":-5,"offset":5},"view":{"stroke":"#555"},
    "layer":[
     {"data":{"name":"hist"},"transform":[{"filter":"datum.p==='F' && datum.s==='Cnt'"}],"mark":{"type":"area","interpolate":"monotone","fill":"#dcdcdc","stroke":"#bdbdbd","strokeWidth":0.8},
      "encoding":{"x":{"field":"x","type":"quantitative","scale":{"domain":[0,5],"nice":false,"zero":false},"axis":{"orient":"bottom","title":null,"labels":false,"domain":false,"tickColor":"#444","tickCount":100,"values":[0,0.301,0.477,0.602,0.699,0.778,0.845,0.903,0.954,1,1.301,1.477,1.602,1.699,1.778,1.845,1.903,1.954,2,2.301,2.477,2.602,2.699,2.778,2.845,2.903,2.954,3,3.301,3.477,3.602,3.699,3.778,3.845,3.903,3.954,4,4.301,4.477,4.602,4.699,4.778,4.845,4.903,4.954,5],"tickSize":{"condition":{"test":"datum.value % 1 === 0","value":4},"value":2}}},
       "y":{"field":"y","type":"quantitative","scale":{"domain":[0,100],"nice":false},"axis":{"title":null,"labels":false,"domain":false,"tickColor":"#444","tickCount":50,"values":[0,10,20,30,40,50,60,70,80,90,100],"tickSize":{"condition":{"test":"datum.value % 20 === 0","value":3.5},"value":2}}}}},
     {"data":{"name":"hist"},"transform":[{"filter":"datum.p==='F' && datum.s!=='Cnt'"}],"mark":{"type":"line","interpolate":"monotone","strokeWidth":1.3},
      "encoding":{"x":{"field":"x","type":"quantitative"},"y":{"field":"y","type":"quantitative"},
       "stroke":{"field":"s","type":"nominal","scale":{"domain":["Cnt","MOG","MOG+ImK"],"range":["#8c8c8c","#e5414b","#4d96e6"]},
        "legend":{"orient":"none","legendX":8,"legendY":35,"title":null,"symbolSize":0,"symbolStrokeWidth":0,"symbolOpacity":0,"labelOffset":0,"labelFontSize":8.5,"rowPadding":1,"padding":0,
         "encode":{"labels":{"update":{"fill":{"signal":"datum.value === 'Cnt' ? '#7f7f7f' : (indexof(datum.value, 'ImK') >= 0 ? '#4d96e6' : '#e5414b')"}}}}}}}},
     {"data":{"name":"gate"},"transform":[{"filter":"datum.p==='F'"}],"mark":{"type":"rule","color":"#333","strokeWidth":1},"encoding":{"x":{"field":"a","type":"quantitative"},"x2":{"field":"b"},"y":{"field":"y","type":"quantitative"}}},
     {"data":{"name":"gate"},"transform":[{"filter":"datum.p==='F'"}],"mark":{"type":"tick","orient":"vertical","size":6,"thickness":1,"color":"#333"},"encoding":{"x":{"field":"a","type":"quantitative"},"y":{"field":"y","type":"quantitative"}}},
     {"data":{"name":"gate"},"transform":[{"filter":"datum.p==='F'"}],"mark":{"type":"tick","orient":"vertical","size":6,"thickness":1,"color":"#333"},"encoding":{"x":{"field":"b","type":"quantitative"},"y":{"field":"y","type":"quantitative"}}},
     {"data":{"name":"gate"},"transform":[{"filter":"datum.p==='F'"}],"mark":{"type":"text","baseline":"bottom","dy":-1,"fontSize":7.5,"color":"#222"},"encoding":{"x":{"field":"mid","type":"quantitative"},"y":{"field":"y","type":"quantitative"},"text":{"field":"t"}}}
    ]},
   {"width":145,"height":101,
    "layer":[
     {"data":{"name":"bars"},"transform":[{"filter":"datum.p==='F'"}],"mark":{"type":"bar","orient":"vertical","width":32,"stroke":"#555","strokeWidth":1},
      "encoding":{"x":{"field":"i","type":"quantitative","scale":{"domain":[-0.6,2.52],"nice":false,"zero":false},"axis":{"values":[0,1,2],"tickCount":50,"labelExpr":"['Cnt','MOG','MOG+ImK'][datum.value]","ticks":false,"title":null,"labelPadding":3,"labelOverlap":false}},
       "y":{"field":"m","type":"quantitative","scale":{"domain":[0,54.5],"nice":false},"axis":{"values":[0,20,40],"tickCount":50,"format":"d","labelOverlap":false,"title":"CCR7⁻ of CD3⁺ cells (%)"}},
       "fill":{"field":"g","type":"nominal","scale":{"domain":["Cnt","MOG","MOG+ImK"],"range":["#ffffff","#a3a3a3","#1c1c1c"]},"legend":null}}},
     {"data":{"name":"bars"},"transform":[{"filter":"datum.p==='F'"}],"mark":{"type":"rule","color":"#666","strokeWidth":1.2},"encoding":{"x":{"field":"i","type":"quantitative"},"y":{"field":"m","type":"quantitative"},"y2":{"field":"e"}}},
     {"data":{"name":"bars"},"transform":[{"filter":"datum.p==='F'"}],"mark":{"type":"tick","orient":"horizontal","size":15,"thickness":1.2,"color":"#666"},"encoding":{"x":{"field":"i","type":"quantitative"},"y":{"field":"e","type":"quantitative"}}},
     {"data":{"name":"sig"},"transform":[{"filter":"datum.p==='F'"}],"mark":{"type":"rule","color":"#8a8a8a","strokeWidth":1.3},"encoding":{"x":{"field":"a","type":"quantitative"},"x2":{"field":"b"},"y":{"field":"y","type":"quantitative"}}},
     {"data":{"name":"sig"},"transform":[{"filter":"datum.p==='F'"}],"mark":{"type":"text","baseline":"top","dy":1,"fontSize":8,"color":"#333"},"encoding":{"x":{"field":"mid","type":"quantitative"},"y":{"field":"y","type":"quantitative"},"text":{"field":"t"}}}
    ]},
   {"width":145,"height":101,"title":{"text":"(G)","dx":-27,"offset":5},
    "resolve":{"scale":{"x":"independent"},"axis":{"x":"independent"}},
    "layer":[
     {"layer":[
      {"data":{"name":"bars"},"transform":[{"filter":"datum.p==='G'"}],"mark":{"type":"bar","orient":"vertical","width":17,"stroke":"#555","strokeWidth":1},
       "encoding":{"x":{"field":"i","type":"quantitative","scale":{"domain":[-0.59,5.5],"nice":false,"zero":false},"axis":{"orient":"bottom","values":[0,1,2,3,4,5],"tickCount":50,"labelExpr":"['Cnt','EAE','0','10','100','1000'][datum.value]","ticks":false,"title":null,"labelPadding":3,"labelFontSize":9.5,"labelOverlap":false}},
        "y":{"field":"m","type":"quantitative","scale":{"domain":[0,118],"nice":false},"axis":{"values":[0,40,80],"tickCount":50,"format":"d","labelOverlap":false,"title":"IL-2 (pg/mL)"}},
        "fill":{"field":"g","type":"nominal","scale":{"domain":["Cnt","EAE","0","10","100","1000"],"range":["#ffffff","#e3e3e3","#c4c4c4","#8e8e8e","#5d5d5d","#262626"]},"legend":null}}},
      {"data":{"name":"bars"},"transform":[{"filter":"datum.p==='G'"}],"mark":{"type":"rule","color":"#666","strokeWidth":1.2},"encoding":{"x":{"field":"i","type":"quantitative"},"y":{"field":"m","type":"quantitative"},"y2":{"field":"e"}}},
      {"data":{"name":"bars"},"transform":[{"filter":"datum.p==='G'"}],"mark":{"type":"tick","orient":"horizontal","size":9,"thickness":1.2,"color":"#666"},"encoding":{"x":{"field":"i","type":"quantitative"},"y":{"field":"e","type":"quantitative"}}},
      {"data":{"name":"sig"},"transform":[{"filter":"datum.p==='G'"}],"mark":{"type":"rule","color":"#8a8a8a","strokeWidth":1.3},"encoding":{"x":{"field":"a","type":"quantitative"},"x2":{"field":"b"},"y":{"field":"y","type":"quantitative"}}},
      {"data":{"name":"sig"},"transform":[{"filter":"datum.p==='G'"}],"mark":{"type":"text","baseline":"top","dy":1,"fontSize":8,"color":"#333"},"encoding":{"x":{"field":"mid","type":"quantitative"},"y":{"field":"y","type":"quantitative"},"text":{"field":"t"}}}
     ]},
     {"data":{"name":"bars"},"transform":[{"filter":"datum.p==='G'"}],"mark":{"type":"point","opacity":0},
      "encoding":{"x":{"datum":3.5,"type":"quantitative","scale":{"domain":[2,5],"range":[52,145]},"axis":{"orient":"bottom","offset":14,"domain":true,"domainColor":"#333","ticks":false,"labels":false,"title":"EAE+MOG+ImK (nmol/L)","titleFontSize":9.5,"titlePadding":2}},
       "y":{"datum":0,"type":"quantitative"}}}
    ]}
  ],"spacing":41,"bounds":"flush","resolve":{"scale":{"x":"independent","y":"independent","fill":"independent","stroke":"independent"},"legend":{"fill":"independent","stroke":"independent"}}},
  {"width":160,"height":101,"title":{"text":"(H)","dx":-22,"offset":5},
   "resolve":{"scale":{"x":"independent"},"axis":{"x":"independent"}},
   "layer":[
    {"layer":[
     {"data":{"name":"bars"},"transform":[{"filter":"datum.p==='H'"}],"mark":{"type":"bar","orient":"vertical","width":19,"stroke":"#555","strokeWidth":1},
      "encoding":{"x":{"field":"i","type":"quantitative","scale":{"domain":[-0.5,5.6],"nice":false,"zero":false},"axis":{"orient":"bottom","values":[0,1,2,3,4,5],"tickCount":50,"labelExpr":"['Cnt','EAE','0','10','100','1000'][datum.value]","ticks":false,"title":null,"labelPadding":3,"labelFontSize":9.5,"labelOverlap":false}},
       "y":{"field":"m","type":"quantitative","scale":{"domain":[0,68],"nice":false},"axis":{"values":[0,20,40,60],"tickCount":50,"format":"d","labelOverlap":false,"title":"IFN-γ (pg/mL)"}},
       "fill":{"field":"g","type":"nominal","scale":{"domain":["Cnt","EAE","0","10","100","1000"],"range":["#ffffff","#e3e3e3","#c4c4c4","#8e8e8e","#5d5d5d","#262626"]},"legend":null}}},
     {"data":{"name":"bars"},"transform":[{"filter":"datum.p==='H'"}],"mark":{"type":"rule","color":"#666","strokeWidth":1.2},"encoding":{"x":{"field":"i","type":"quantitative"},"y":{"field":"m","type":"quantitative"},"y2":{"field":"e"}}},
     {"data":{"name":"bars"},"transform":[{"filter":"datum.p==='H'"}],"mark":{"type":"tick","orient":"horizontal","size":10,"thickness":1.2,"color":"#666"},"encoding":{"x":{"field":"i","type":"quantitative"},"y":{"field":"e","type":"quantitative"}}},
     {"data":{"name":"sig"},"transform":[{"filter":"datum.p==='H'"}],"mark":{"type":"rule","color":"#8a8a8a","strokeWidth":1.3},"encoding":{"x":{"field":"a","type":"quantitative"},"x2":{"field":"b"},"y":{"field":"y","type":"quantitative"}}},
     {"data":{"name":"sig"},"transform":[{"filter":"datum.p==='H'"}],"mark":{"type":"text","baseline":"top","dy":1,"fontSize":8,"color":"#333"},"encoding":{"x":{"field":"mid","type":"quantitative"},"y":{"field":"y","type":"quantitative"},"text":{"field":"t"}}}
    ]},
    {"data":{"name":"bars"},"transform":[{"filter":"datum.p==='H'"}],"mark":{"type":"point","opacity":0},
     "encoding":{"x":{"datum":3.5,"type":"quantitative","scale":{"domain":[2,5],"range":[61,150]},"axis":{"orient":"bottom","offset":14,"domain":true,"domainColor":"#333","ticks":false,"labels":false,"title":"EAE+MOG+ImK (nmol/L)","titleFontSize":9.5,"titlePadding":2}},
      "y":{"datum":0,"type":"quantitative"}}}
   ]}
 ],"spacing":-0.5,"resolve":{"scale":{"x":"independent","y":"independent","fill":"independent","stroke":"independent"},"legend":{"fill":"independent","stroke":"independent"}}}
],"spacing":-10,"resolve":{"scale":{"x":"independent","y":"independent","fill":"independent","stroke":"independent"},"legend":{"fill":"independent","stroke":"independent"}}}
]
}
